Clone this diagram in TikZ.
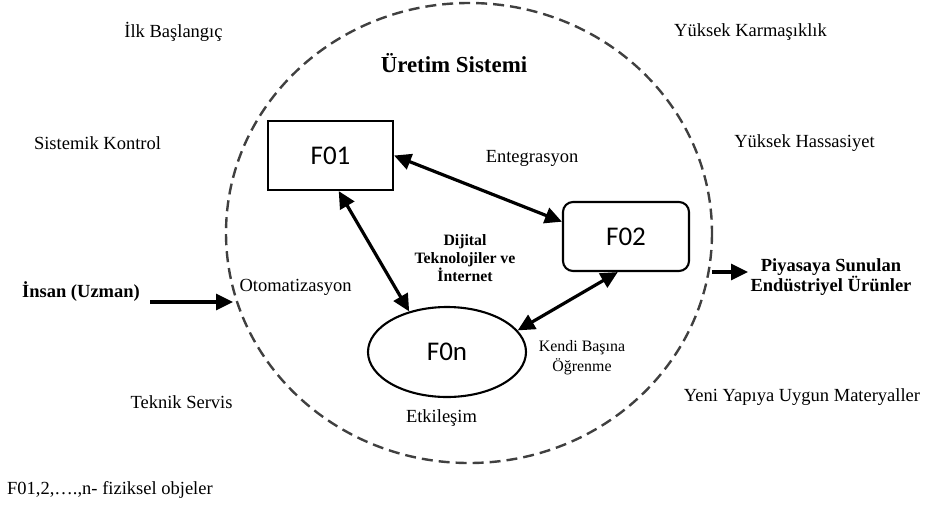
\documentclass[tikz,border=0pt]{standalone}
\usepackage{fontspec}
\setmainfont{Liberation Serif}
\newfontfamily\boxfont{Carlito}
\usetikzlibrary{arrows.meta,shapes.geometric}

\tikzset{
  lbl/.style={inner sep=0pt, font=\fontsize{18.5}{22}\selectfont},
  lblbold/.style={inner sep=0pt, font=\fontsize{18.5}{20}\selectfont\bfseries, align=center},
  small/.style={inner sep=0pt, align=center, font=\fontsize{15.9}{20}\selectfont},
  objbox/.style={draw, line width=2.1pt, inner sep=0pt, font=\boxfont\fontsize{27}{30}\selectfont},
  link/.style={line width=3.2pt, {Triangle[length=17pt,width=16pt]}-{Triangle[length=17pt,width=16pt]}},
  flow/.style={line width=3.2pt, -{Triangle[length=17pt,width=16pt]}},
  boundary/.style={draw=black!75, line width=2.4pt, dash pattern=on 11pt off 6pt}
}

\begin{document}
\begin{tikzpicture}[x=1pt,y=-1pt]
\useasboundingbox (0,0) rectangle (926,509);

% system boundary
\draw[boundary] (469,233) ellipse [x radius=243, y radius=230];

% physical objects
\node[objbox, rectangle, minimum width=125pt, minimum height=69pt] (F01) at (330.5,155.5) {F01};
\node[objbox, rectangle, rounded corners=10pt, minimum width=126pt, minimum height=69pt] (F02) at (626,236.5) {F02};
\node[objbox, ellipse, minimum width=158pt, minimum height=90pt] (F0n) at (447,352) {F0n};

% links between objects
\draw[link] (F01.east) -- (F02.167);
\draw[link] (F01.283) -- (F0n.133);
\draw[link] (F02.257) -- (F0n.17);

% inputs and outputs
\coordinate (inStart) at (150,302);
\coordinate (inEnd) at (233,302);
\coordinate (outStart) at (712,272);
\coordinate (outEnd) at (748,272);
\draw[flow] (inStart) -- (inEnd);
\draw[flow] (outStart) -- (outEnd);

% labels
\node[inner sep=0pt, font=\fontsize{22.9}{26}\selectfont\bfseries] (title) at (454,63) {Üretim Sistemi};
\node[lbl] (ilk) at (173.5,32) {İlk Başlangıç};
\node[lbl] (karm) at (750.5,32) {Yüksek Karmaşıklık};
\node[lbl] (sist) at (97.5,143) {Sistemik Kontrol};
\node[lbl] (hass) at (804.5,143) {Yüksek Hassasiyet};
\node[lbl] (enteg) at (532,158) {Entegrasyon};
\node[lbl] (otom) at (295.5,287) {Otomatizasyon};
\node[lbl] (tekn) at (181.5,402) {Teknik Servis};
\node[lbl] (yeni) at (802,397) {Yeni Yapıya Uygun Materyaller};
\node[lbl] (etk) at (441.5,418) {Etkileşim};
\node[small, font=\fontsize{15.8}{18}\selectfont\bfseries] (dij) at (465,258) {Dijital\\Teknolojiler ve\\İnternet};
\node[small] (kendi) at (582,358) {Kendi Başına\\Öğrenme};
\node[lblbold] (insan) at (81,292) {İnsan (Uzman)};
\node[lblbold] (piya) at (831,277) {Piyasaya Sunulan\\Endüstriyel Ürünler};
\node[lbl, anchor=west] (note) at (7,490) {F01,2,….,n- fiziksel objeler};
\end{tikzpicture}
\end{document}
